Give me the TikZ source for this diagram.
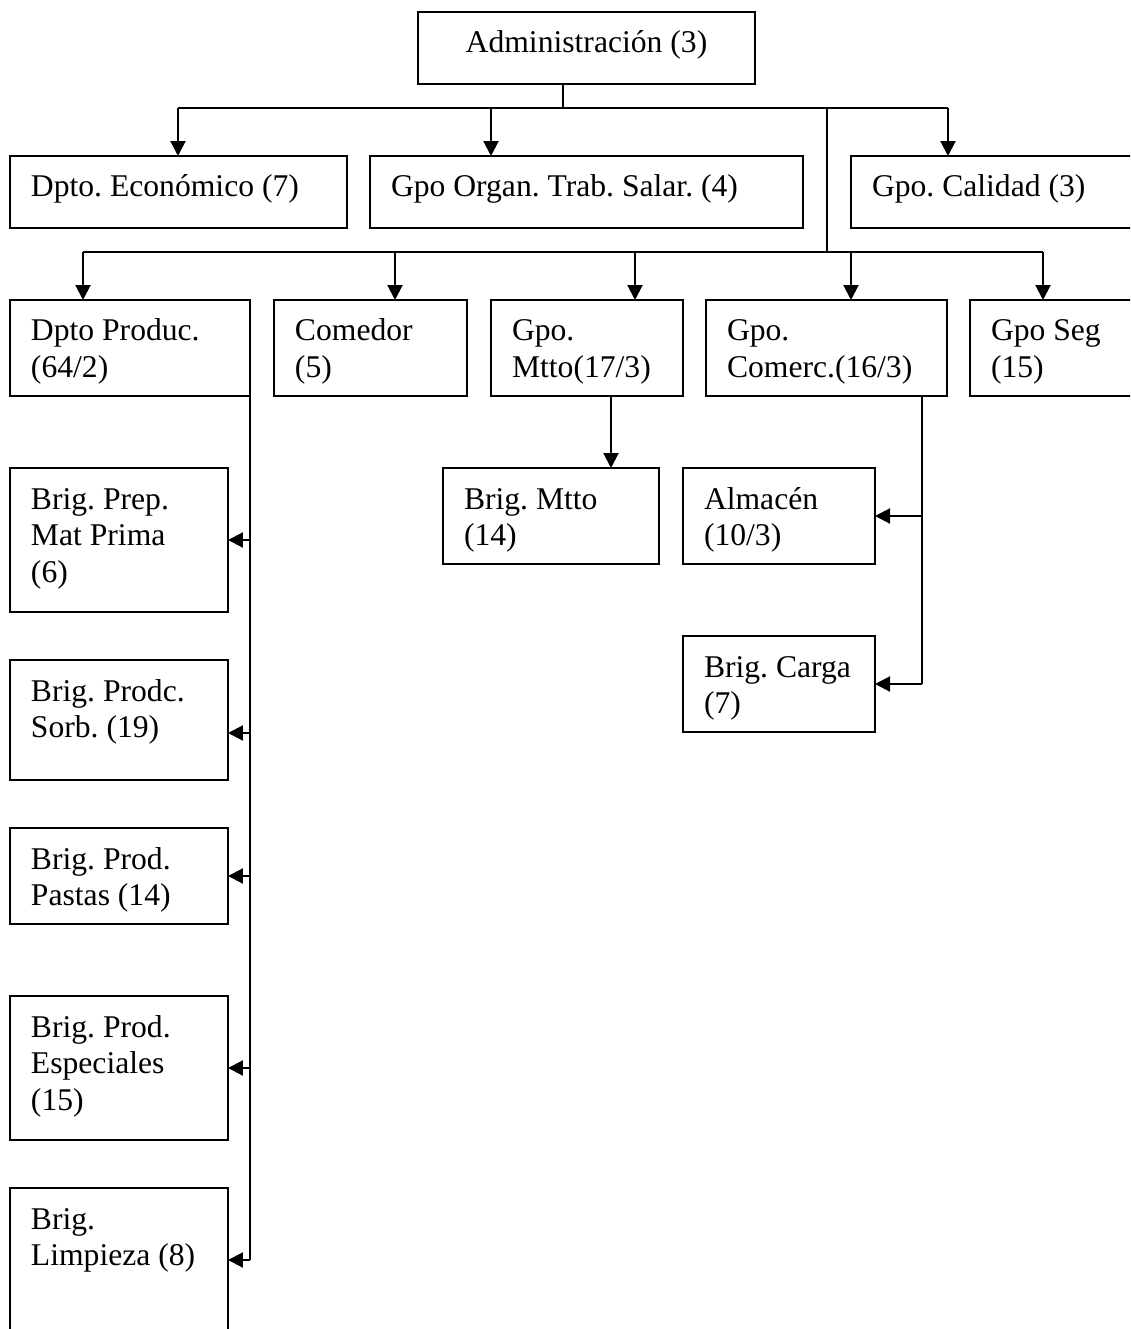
\documentclass[tikz,border=0pt]{standalone}
\usepackage{fontspec}
\setmainfont{Liberation Serif}
\usetikzlibrary{arrows.meta}
\tikzset{
  boxst/.style={draw, rectangle, line width=1.2pt, inner sep=0pt, outer sep=0pt},
  lblst/.style={anchor=north west, align=left, inner sep=0pt, outer sep=0pt,
    font=\fontsize{18}{20.8}\selectfont},
  ln/.style={line width=1.2pt},
  arr/.style={line width=1.2pt, -{Triangle[length=0.3cm,width=0.3cm]}}
}
\newcommand\orgbox[6]{%
  \node[boxst, minimum width={(#4-#2)*0.02cm}, minimum height={(#5-#3)*0.02cm}] (#1) at ({(#2+#4)/2},{(#3+#5)/2}) {};
  \node[lblst] (#1t) at ([xshift=0.42cm,yshift=-0.2cm]#1.north west) {\rule{0pt}{0.62cm}#6};
}
\begin{document}
\frenchspacing
\begin{tikzpicture}[x=0.02cm,y=-0.02cm]
\useasboundingbox (0,0) rectangle (1130,1329);
\clip (0,0) rectangle (1130,1329);
\fill[white] (0,0) rectangle (1130,1329);
% top box
\node[boxst, minimum width={337*0.02cm}, minimum height={72*0.02cm}] (admin) at ({(418+755)/2},{(12+84)/2}) {};
\node[anchor=base, inner sep=0pt, font=\fontsize{18}{20.8}\selectfont] (admint) at ([yshift=-0.82cm]admin.north) {Administración (3)};
% level 1
\orgbox{econ}{10}{156}{347}{228}{Dpto. Económico (7)}
\orgbox{organ}{370}{156}{803}{228}{Gpo Organ. Trab. Salar. (4)}
\orgbox{cal}{851}{156}{1200}{228}{Gpo. Calidad (3)}
% level 2
\orgbox{prod}{10}{300}{250}{396}{Dpto Produc.\\(64/2)}
\orgbox{com}{274}{300}{467}{396}{Comedor\\(5)}
\orgbox{mtto}{491}{300}{683}{396}{Gpo.\\Mtto(17/3)}
\orgbox{comerc}{706}{300}{947}{396}{Gpo.\\Comerc.(16/3)}
\orgbox{seg}{970}{300}{1200}{396}{Gpo Seg\\(15)}
% level 3
\orgbox{prep}{10}{468}{228}{612}{Brig. Prep.\\Mat Prima\\(6)}
\orgbox{sorb}{10}{660}{228}{780}{Brig. Prodc.\\Sorb. (19)}
\orgbox{past}{10}{828}{228}{924}{Brig. Prod.\\Pastas (14)}
\orgbox{esp}{10}{996}{228}{1140}{Brig. Prod.\\Especiales\\(15)}
\orgbox{limp}{10}{1188}{228}{1332}{Brig.\\Limpieza (8)}
\orgbox{bmtto}{443}{468}{659}{564}{Brig. Mtto\\(14)}
\orgbox{alm}{683}{468}{875}{564}{Almacén\\(10/3)}
\orgbox{carga}{683}{636}{875}{732}{Brig. Carga\\(7)}
% connectors: level 1 bus
\coordinate (a1) at (563,108);
\coordinate (b1l) at (178,108);
\coordinate (b1m) at (491,108);
\coordinate (b1r) at (948,108);
\coordinate (t2) at (827,252);
\draw[ln] (admin.south -| a1) -- (a1);
\draw[ln] (b1l) -- (b1r);
\draw[arr] (b1l) -- (b1l |- econ.north);
\draw[arr] (b1m) -- (b1m |- organ.north);
\draw[arr] (b1r) -- (b1r |- cal.north);
\draw[ln] (t2 |- a1) -- (t2);
% level 2 bus
\coordinate (b2l) at (83,252);
\coordinate (b2c) at (395,252);
\coordinate (b2m) at (635,252);
\coordinate (b2n) at (851,252);
\coordinate (b2r) at (1043,252);
\draw[ln] (b2l) -- (b2r);
\draw[arr] (b2l) -- (b2l |- prod.north);
\draw[arr] (b2c) -- (b2c |- com.north);
\draw[arr] (b2m) -- (b2m |- mtto.north);
\draw[arr] (b2n) -- (b2n |- comerc.north);
\draw[arr] (b2r) -- (b2r |- seg.north);
% production branch
\coordinate (pv) at (250,1260);
\coordinate (sorbin) at ([yshift=-0.26cm]sorb.east);
\draw[ln] (prod.south east) -- (pv);
\draw[arr] (pv |- prep.east) -- (prep.east);
\draw[arr] (pv |- sorbin) -- (sorbin);
\draw[arr] (pv |- past.east) -- (past.east);
\draw[arr] (pv |- esp.east) -- (esp.east);
\draw[arr] (pv) -- (pv -| limp.east);
% maintenance branch
\coordinate (mv) at (611,396);
\draw[arr] (mtto.south -| mv) -- (bmtto.north -| mv);
% commercial branch
\coordinate (cv) at (922,684);
\draw[ln] (cv |- comerc.south) -- (cv);
\draw[arr] (cv |- alm.east) -- (alm.east);
\draw[arr] (cv) -- (carga.east);
\end{tikzpicture}
\end{document}
